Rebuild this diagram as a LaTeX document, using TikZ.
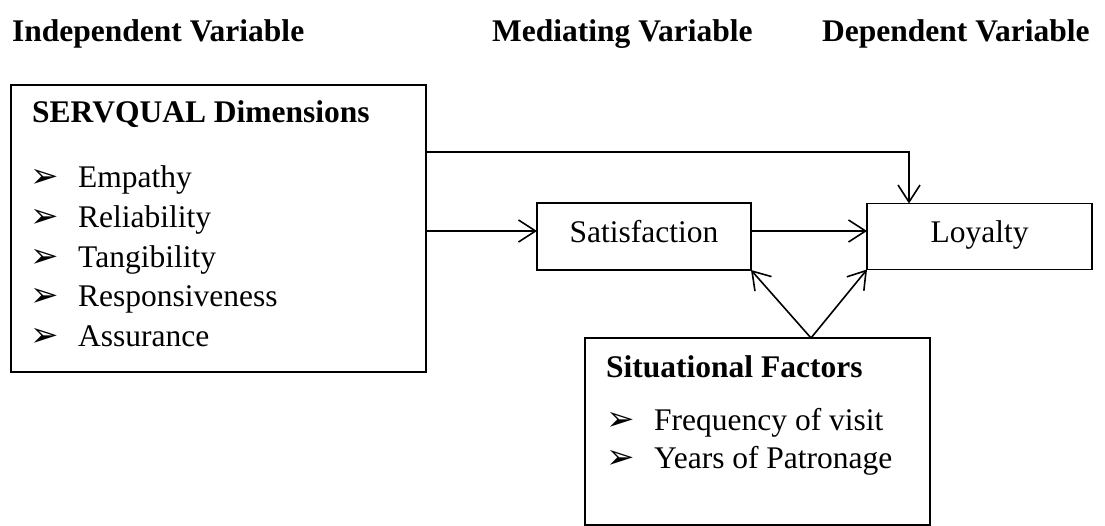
\documentclass[tikz,border=0pt]{standalone}
\usepackage{fontspec}
\setmainfont{Liberation Serif}
\newfontfamily\dingfont{DejaVu Sans}
\usetikzlibrary{arrows.meta}
\begin{document}
\begin{tikzpicture}[x=1pt,y=-1pt,
  txt/.style={font=\fontsize{31.5}{38}\selectfont, inner sep=0pt, anchor=base west},
  hdr/.style={txt, font=\fontsize{31.5}{38}\selectfont\bfseries},
  bul/.style={font=\dingfont\fontsize{34}{40}\selectfont, inner sep=0pt, anchor=base west},
  boxa/.style={draw, line width=1.3pt, outer sep=0pt, inner sep=0pt},
  lbox/.style={boxa, font=\fontsize{31.5}{38}\selectfont, text height=20pt, text depth=7pt},
  arr/.style={line width=1.6pt, -{Straight Barb[length=17pt,width=22pt,line width=1.6pt]}}
]
\useasboundingbox (0,0) rectangle (1105,526);
% headers
\node[hdr] (h1) at (12,42) {Independent Variable};
\node[hdr] (h2) at (492,42) {Mediating Variable};
\node[hdr] (h3) at (822,42) {Dependent Variable};
% SERVQUAL box
\node[boxa, minimum width=415pt, minimum height=287pt] (box1) at (218.5,228.5) {};
\node[hdr] (t1) at (32,123) {SERVQUAL Dimensions};
\foreach \y/\t [count=\i] in {188/Empathy,228/Reliability,268/Tangibility,307/Responsiveness,347/Assurance}{
  \node[bul] (b\i) at (30,\y) {➢};
  \node[txt] (i\i) at (78,\y) {\t};
}
% Satisfaction and Loyalty
\node[lbox, minimum width=214pt, minimum height=67pt] (sat) at (644,236.5) {Satisfaction};
\node[lbox, minimum width=225pt, minimum height=66pt] (loy) at (979.5,236.5) {Loyalty};
% Situational box
\node[boxa, minimum width=345pt, minimum height=187pt] (sit) at (757.5,431.5) {};
\node[hdr] (t2) at (606,377) {Situational Factors};
\node[bul] (sb1) at (606,430) {➢};
\node[txt] (s1) at (654,430) {Frequency of visit};
\node[bul] (sb2) at (606,468) {➢};
\node[txt] (s2) at (654,468) {Years of Patronage};
% connectors
\path ([yshift=5.5pt]sat.west) coordinate (sw);
\path ([yshift=5.5pt]sat.east) coordinate (se);
\path ([yshift=5.5pt]loy.west) coordinate (lw);
\draw[arr] (sw -| box1.east) -- (sw);
\draw[arr] (se) -- (lw);
\coordinate (ta) at (426,152);
\coordinate (tb) at (909,152);
\draw[arr] (ta) -- (tb) -- (tb |- loy.north);
\coordinate (v) at (811,338);
\draw[arr] (v) -- (sat.south east);
\draw[arr] (v) -- (loy.south west);
\end{tikzpicture}
\end{document}
